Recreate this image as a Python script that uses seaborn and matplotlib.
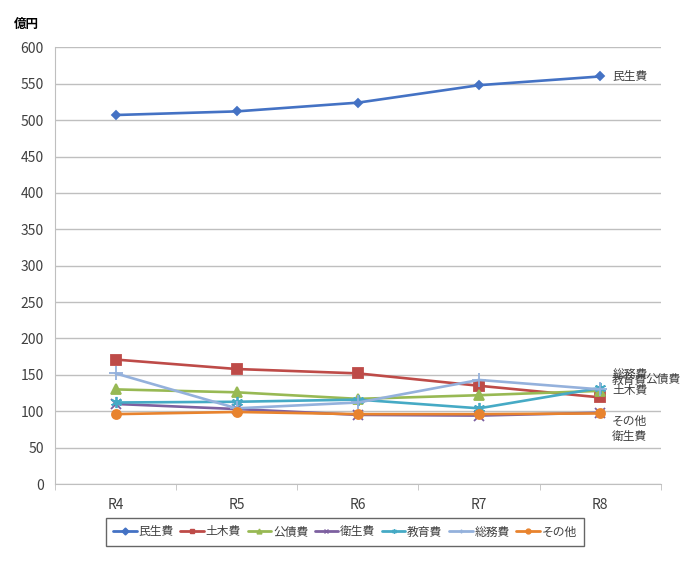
import matplotlib
matplotlib.use("Agg")
import matplotlib.pyplot as plt
import numpy as np
import pandas as pd
import seaborn as sns

years = ['R4', 'R5', 'R6', 'R7', 'R8']
names = ['民生費', '土木費', '公債費', '衛生費', '教育費', '総務費', 'その他']

minsei = [507, 512, 524, 548, 560]
doboku = [171, 158, 152, 135, 119]
kousai = [130, 126, 117, 122, 128]
eisei = [110, 103, 95, 94, 98]
kyouiku = [112, 113, 116, 104, 132]
soumu = [152, 104, 112, 143, 130]
sonota = [96, 99, 96, 96, 97]

values = [minsei, doboku, kousai, eisei, kyouiku, soumu, sonota]

df = pd.DataFrame({
    'year': np.tile(np.arange(len(years)), len(names)),
    'item': np.repeat(names, len(years)),
    'value': np.concatenate(values),
})

colors = {'民生費': '#4472C4', '土木費': '#BE4B48', '公債費': '#98B954',
          'その他': '#E8832E', '衛生費': '#7D60A0', '教育費': '#46AAC5',
          '総務費': '#94B1DC'}
markers = {'民生費': 'D', '土木費': 's', '公債費': '^', '衛生費': 'x',
           '教育費': (6, 2, 0), '総務費': '+', 'その他': 'o'}
msizes = {'民生費': 4.5, '土木費': 6.5, '公債費': 6.5, '衛生費': 6.5,
          '教育費': 8, '総務費': 10, 'その他': 6.5}

sns.set_style('white')
plt.rcParams['font.family'] = ['Noto Sans CJK JP', 'DejaVu Sans']

fig = plt.figure(figsize=(6.9, 5.83), dpi=100)
ax = fig.add_axes([0.0797, 0.1698, 0.878, 0.749])

for name in names:
    sub = df[df['item'] == name]
    sns.lineplot(data=sub, x='year', y='value', color=colors[name],
                 marker=markers[name], markersize=msizes[name],
                 markeredgecolor=colors[name], markeredgewidth=1.3,
                 linewidth=1.9, label=name, ax=ax)

ax.set_xlim(-0.5, 4.5)
ax.set_ylim(0, 600)
ax.set_yticks(range(0, 601, 50))
ax.set_xticks(range(len(years)))
ax.set_xticklabels(years)
ax.set_xticks(np.arange(-0.5, 4.6, 1), minor=True)
ax.yaxis.grid(True, color='#BFBFBF', linewidth=1)
ax.set_axisbelow(True)
ax.set_xlabel('')
ax.set_ylabel('')
for s in ['top', 'right']:
    ax.spines[s].set_visible(False)
for s in ['left', 'bottom']:
    ax.spines[s].set_color('#BFBFBF')
ax.tick_params(axis='y', which='major', length=5, color='#BFBFBF', labelsize=10, labelcolor='#404040', pad=3)
ax.tick_params(axis='x', which='major', length=0, labelsize=10, labelcolor='#404040', pad=10)
ax.tick_params(axis='x', which='minor', bottom=True, length=4, color='#BFBFBF')

# data labels at the last point
offsets = {'民生費': (12, 0), '総務費': (12, 15), '教育費': (12, 7),
           '公債費': (45, 11), '土木費': (12, 7), 'その他': (12, -8),
           '衛生費': (12, -24)}
for name, vals in zip(names, values):
    ax.annotate(name, (len(years) - 1, vals[-1]), xytext=offsets[name],
                textcoords='offset pixels', ha='left', va='center',
                fontsize=8.5, color='#404040', annotation_clip=False)

fig.text(0.02, 0.952, '億円', fontsize=9, fontweight='bold', color='#000000')

leg = ax.legend(loc='center', bbox_to_anchor=(0.5, 0.0875), bbox_transform=fig.transFigure,
                ncol=7, frameon=True, fancybox=False, fontsize=8.5,
                handlelength=2.0, handletextpad=0.15, columnspacing=0.55,
                borderpad=0.6, edgecolor='#404040')
leg.get_frame().set_linewidth(1)
for t in leg.get_texts():
    t.set_color('#404040')
for h in leg.legend_handles:
    h.set_markersize(3.5)
    h.set_markeredgewidth(1)
    h.set_linewidth(2)

fig.savefig('out.png', dpi=100)
